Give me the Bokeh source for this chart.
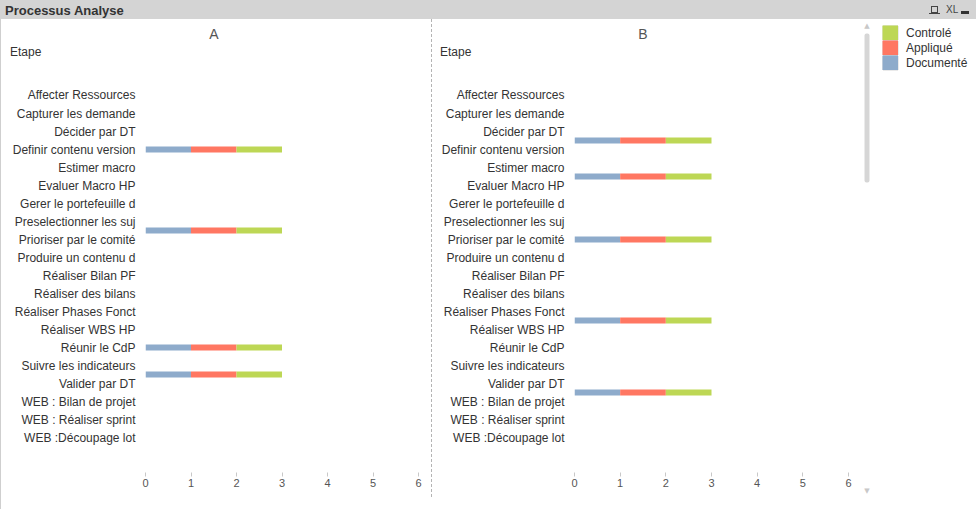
from bokeh.plotting import figure
from bokeh.models import (Range1d, FixedTicker, Label, Legend, LegendItem,
                          BoxAnnotation, Div, ColumnDataSource)
from bokeh.layouts import row, column
from bokeh.embed import file_html
from bokeh.resources import INLINE

# ---------------- data ----------------
etapes = ["Affecter Ressources", "Capturer les demande", "Décider par DT",
          "Definir contenu version", "Estimer macro", "Evaluer Macro HP",
          "Gerer le portefeuille d", "Preselectionner les suj",
          "Prioriser par le comité", "Produire un contenu d",
          "Réaliser Bilan PF", "Réaliser des bilans", "Réaliser Phases Fonct",
          "Réaliser WBS HP", "Réunir le CdP", "Suivre les indicateurs",
          "Valider par DT", "WEB : Bilan de projet", "WEB : Réaliser sprint",
          "WEB :Découpage lot"]
series = ["Documenté", "Appliqué", "Controlé"]
legend_order = ["Controlé", "Appliqué", "Documenté"]
series_colors = {"Documenté": "#8eabcb", "Appliqué": "#ff7762", "Controlé": "#bdd755"}

# panel A (row positions as drawn on the chart)
a_rows = [3, 7.5, 14, 15.5]
a_documente = [1, 1, 1, 1]
a_applique = [1, 1, 1, 1]
a_controle = [1, 1, 1, 1]

# panel B
b_rows = [2.5, 4.5, 8, 12.5, 16.5]
b_documente = [1, 1, 1, 1, 1]
b_applique = [1, 1, 1, 1, 1]
b_controle = [1, 1, 1, 1, 1]

x_ticks = [0, 1, 2, 3, 4, 5, 6]
dim_label = "Etape"

FONT = "Liberation Sans"
HEAD = 61
FIG_H = 490 - HEAD


def panel(name, rows, doc, app, ctl, width, left, right, title_center, etape_left):
    p = figure(width=width, height=FIG_H, output_backend="svg", toolbar_location=None,
               x_range=Range1d(0, 6), y_range=Range1d(20.944, -0.8333),
               min_border_left=left, min_border_right=right,
               min_border_top=0, min_border_bottom=37)
    p.frame_align = False
    src = ColumnDataSource(dict(row=rows, doc=doc, app=app, ctl=ctl))
    p.hbar_stack(["doc", "app", "ctl"], y="row", height=0.34, source=src,
                 fill_color=[series_colors[s] for s in series], line_color=None)
    p.outline_line_color = None
    p.xgrid.visible = False
    p.ygrid.visible = False

    xa = p.xaxis[0]
    xa.ticker = FixedTicker(ticks=x_ticks)
    xa.axis_line_color = None
    xa.major_tick_line_color = "#c8c8c8"
    xa.major_tick_in = 0
    xa.major_tick_out = 4
    xa.minor_tick_line_color = None
    xa.minor_tick_in = 0
    xa.minor_tick_out = 0
    xa.major_label_standoff = 2
    xa.major_label_text_font_size = "11px"
    xa.major_label_text_color = "#555555"
    xa.major_label_text_font = FONT

    ya = p.yaxis[0]
    ya.ticker = FixedTicker(ticks=list(range(len(etapes))))
    ya.major_label_overrides = {i: e for i, e in enumerate(etapes)}
    ya.axis_line_color = None
    ya.major_tick_line_color = None
    ya.minor_tick_line_color = None
    ya.major_tick_in = 0
    ya.major_tick_out = 0
    ya.minor_tick_in = 0
    ya.minor_tick_out = 0
    ya.major_label_standoff = 10
    ya.major_label_text_font_size = "12px"
    ya.major_label_text_color = "#333333"
    ya.major_label_text_font = FONT

    head = Div(text=(
        f'<div style="position:relative;width:{width}px;height:{HEAD}px;'
        f'font-family:\'Liberation Sans\',Arial,sans-serif;">'
        f'<span style="position:absolute;left:{title_center - 50}px;width:100px;top:7px;'
        f'text-align:center;font-size:14px;line-height:16px;color:#555;">{name}</span>'
        f'<span style="position:absolute;left:{etape_left}px;top:26px;font-size:12px;'
        f'line-height:14px;color:#333;">{dim_label}</span></div>'),
        width=width, height=HEAD, margin=0)
    return column(head, p, spacing=0), src


pa, src_a = panel("A", a_rows, a_documente, a_applique, a_controle, 430, 144, 13, 213, 9)
pb, src_b = panel("B", b_rows, b_documente, b_applique, b_controle, 430, 142, 14, 211, 8)

# legend + scrollbar area (legend proxies use panel A data; ranges keep them out of view)
pl = figure(width=114, height=490, output_backend="svg", toolbar_location=None,
            x_range=Range1d(-20, -19), y_range=Range1d(-20, -19),
            x_axis_type=None, y_axis_type=None,
            min_border_left=0, min_border_right=0, min_border_top=0, min_border_bottom=0)
pl.frame_align = False
pl.outline_line_color = None
pl.xgrid.visible = False
pl.ygrid.visible = False
col_of = {"Documenté": "doc", "Appliqué": "app", "Controlé": "ctl"}
items = []
for s in legend_order:
    r = pl.line(x=col_of[s], y="row", source=src_a, line_color=series_colors[s],
                line_width=15, line_cap="butt")
    items.append(LegendItem(label=s, renderers=[r]))
leg = Legend(items=items, location=(20, 439), orientation="vertical",
             glyph_width=16, glyph_height=15, label_height=15, spacing=0,
             padding=0, margin=0, border_line_color=None, background_fill_alpha=0,
             label_standoff=8, label_text_font_size="12px",
             label_text_color="#333333", label_text_font=FONT)
pl.add_layout(leg)
# outlines of the legend swatches
for k in range(3):
    pl.add_layout(BoxAnnotation(left=20.5, right=35.5, bottom=439.5 + 15 * k,
                                top=453.5 + 15 * k,
                                left_units="screen", right_units="screen",
                                top_units="screen", bottom_units="screen",
                                fill_alpha=0, line_color="#707070", line_width=1))
# scrollbar
pl.add_layout(BoxAnnotation(left=2, right=7, top=476, bottom=327,
                            left_units="screen", right_units="screen",
                            top_units="screen", bottom_units="screen",
                            fill_color="#d6d6d6", fill_alpha=1, line_color=None,
                            border_radius=2))
pl.add_layout(Label(x=4.5, y=484, x_units="screen", y_units="screen", text="▲",
                    text_align="center", text_baseline="middle", text_font_size="7px",
                    text_color="#c8c8c8", text_font="DejaVu Sans"))
pl.add_layout(Label(x=4.5, y=19, x_units="screen", y_units="screen", text="▼",
                    text_align="center", text_baseline="middle", text_font_size="7px",
                    text_color="#c8c8c8", text_font="DejaVu Sans"))

title_html = (
    '<div style="position:relative;width:976px;height:19px;background:#d4d4d4;'
    'font-family:\'Liberation Sans\',Arial,sans-serif;color:#333;">'
    '<span style="position:absolute;left:5px;top:2px;font-size:13px;font-weight:bold;">'
    'Processus Analyse</span>'
    '<span style="position:absolute;left:931px;top:6px;width:7px;height:7px;'
    'border:1px solid #444;box-sizing:border-box;"></span>'
    '<span style="position:absolute;left:929px;top:13px;width:11px;height:1px;background:#444;"></span>'
    '<span style="position:absolute;left:946px;top:4px;font-size:10px;line-height:12px;color:#444;">XL</span>'
    '<span style="position:absolute;left:961px;top:11px;width:8px;height:3px;background:#333;"></span>'
    '</div>'
)
title = Div(text=title_html, width=976, height=19, margin=0)
left_border = Div(text="", width=1, height=490, margin=0,
                  styles={"background-color": "#cfcfcf"})
divider = Div(text="", width=1, height=478, margin=0,
              styles={"background": "repeating-linear-gradient(to bottom, #b4b4b4 0px, #b4b4b4 3px, transparent 3px, transparent 5px)"})

layout = column(title, row(left_border, pa, divider, pb, pl, spacing=0), spacing=0)

open("out.html", "w").write(file_html(layout, INLINE))
